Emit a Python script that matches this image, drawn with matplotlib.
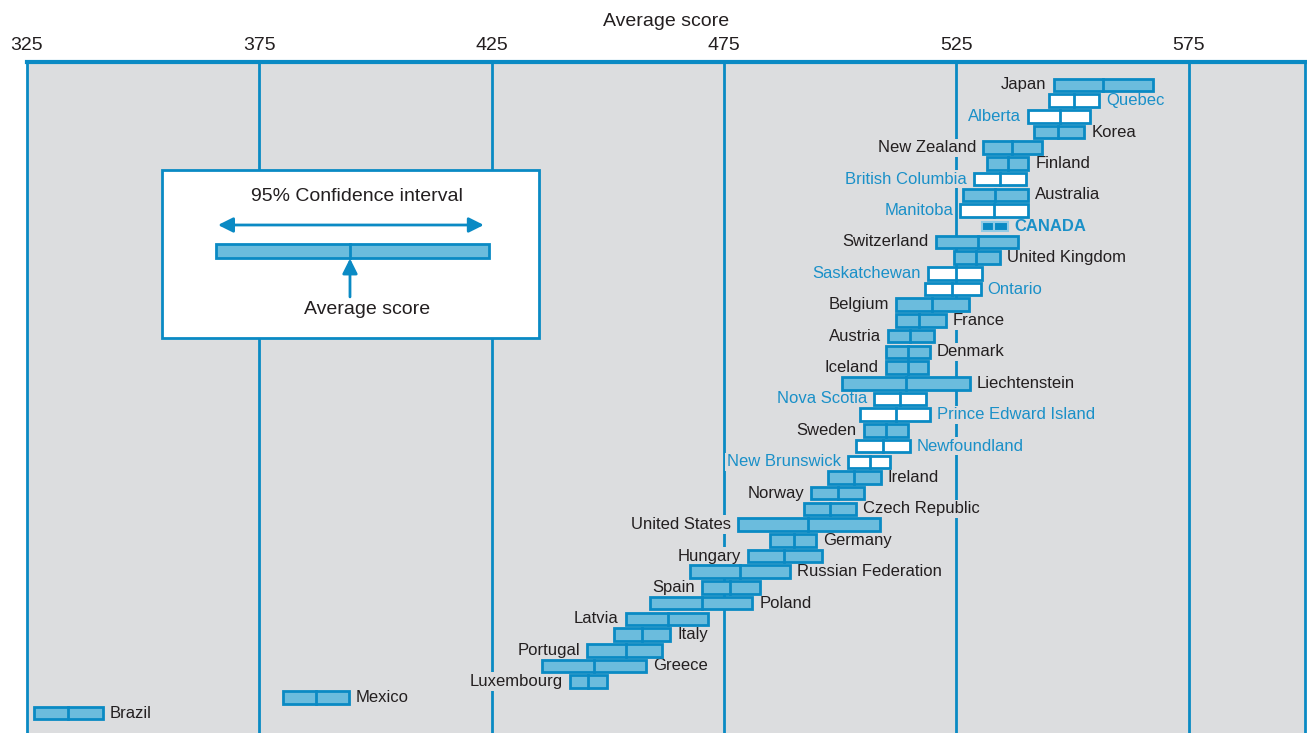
import matplotlib
matplotlib.use("Agg")
import matplotlib.pyplot as plt
from matplotlib.patches import Rectangle

# colours
BG = "#dcdddf"
BLUE = "#0a8ac4"
FILL = "#6bbcdd"
DARK = "#231f20"
PROV = "#1a90c8"

plt.rcParams["font.family"] = ["Liberation Sans", "DejaVu Sans"]

# PISA mathematics, 95% confidence intervals
names = ["Japan", "Quebec", "Alberta", "Korea", "New Zealand", "Finland",
         "British Columbia", "Australia", "Manitoba", "CANADA", "Switzerland",
         "United Kingdom", "Saskatchewan", "Ontario", "Belgium", "France",
         "Austria", "Denmark", "Iceland", "Liechtenstein", "Nova Scotia",
         "Prince Edward Island", "Sweden", "Newfoundland", "New Brunswick",
         "Ireland", "Norway", "Czech Republic", "United States", "Germany",
         "Hungary", "Russian Federation", "Spain", "Poland", "Latvia", "Italy",
         "Portugal", "Greece", "Luxembourg", "Mexico", "Brazil"]
kind = ["country", "province", "province", "country", "country", "country",
        "province", "country", "province", "canada", "country",
        "country", "province", "province", "country", "country",
        "country", "country", "country", "country", "province",
        "province", "country", "province", "province",
        "country", "country", "country", "country", "country",
        "country", "country", "country", "country", "country", "country",
        "country", "country", "country", "country", "country"]
low = [545.9, 545.0, 540.3, 541.6, 530.8, 531.6,
       528.7, 526.5, 525.8, 530.4, 520.5,
       524.4, 518.8, 518.3, 511.9, 511.9,
       510.2, 509.8, 509.8, 500.3, 507.2,
       504.2, 505.0, 503.3, 501.6,
       497.3, 493.8, 492.1, 478.0, 484.8,
       480.1, 467.6, 470.2, 459.0, 453.8, 451.3,
       445.6, 435.8, 441.8, 380.1, 326.4]
mean = [556.6, 550.4, 547.2, 546.8, 536.9, 536.0,
        534.3, 533.4, 533.0, 533.0, 529.7,
        529.2, 524.8, 524.1, 519.8, 517.0,
        514.9, 514.5, 514.5, 514.1, 512.8,
        512.0, 509.8, 509.3, 506.4,
        502.9, 499.5, 497.8, 493.1, 490.0,
        487.9, 478.4, 476.2, 470.2, 462.9, 457.3,
        453.9, 446.9, 445.7, 387.2, 333.9]
high = [567.4, 555.7, 553.7, 552.5, 543.4, 540.5,
        540.0, 540.5, 540.5, 536.0, 538.3,
        534.4, 530.5, 530.2, 527.6, 522.7,
        520.2, 519.3, 518.9, 527.9, 518.5,
        519.3, 514.6, 515.0, 510.8,
        508.7, 505.1, 503.4, 508.6, 494.8,
        496.1, 489.2, 482.8, 481.1, 471.6, 463.4,
        461.7, 458.3, 449.7, 394.2, 341.3]
ticks = [325, 375, 425, 475, 525, 575]

fig = plt.figure(figsize=(13.07, 7.33), dpi=100)
ax = fig.add_axes([27 / 1307, 0, 1278 / 1307, 1 - 62 / 733])
ax.set_facecolor(BG)
ax.set_xlim(325, 600)
ax.set_ylim(41.27, -1.46)

for t in ticks[1:]:
    ax.axvline(t, color=BLUE, lw=2, zorder=1)

for i, name in enumerate(names):
    lo, m, hi = low[i], mean[i], high[i]
    if kind[i] == "canada":
        h = 0.6
        ax.add_patch(Rectangle((lo, i - h / 2), m - lo, h, facecolor=BLUE,
                               edgecolor="#8fcbe6", lw=1.5, zorder=3))
        ax.add_patch(Rectangle((m, i - h / 2), hi - m, h, facecolor=BLUE,
                               edgecolor="#8fcbe6", lw=1.5, zorder=3))
        col, weight = PROV, "bold"
    else:
        h = 0.8
        fc = "white" if kind[i] == "province" else FILL
        ax.add_patch(Rectangle((lo, i - h / 2), hi - lo, h, facecolor=fc,
                               edgecolor=BLUE, lw=2, zorder=3))
        ax.plot([m, m], [i - h / 2, i + h / 2], color=BLUE, lw=2, zorder=4)
        col = PROV if kind[i] == "province" else DARK
        weight = "normal"

    # labels alternate left / right; far-left rows go right
    if i % 2 == 0 and lo > 340:
        x, dx, ha = lo, -5, "right"
    else:
        x, dx, ha = hi, 5, "left"
    ax.annotate(name, (x, i), xytext=(dx, 0), textcoords="offset points",
                ha=ha, va="center", fontsize=12, color=col, fontweight=weight,
                zorder=2,
                bbox=dict(boxstyle="square,pad=0.1", fc=BG, ec="none"))

# legend box
ax.add_patch(Rectangle((354.0, 5.41), 81.1, 10.7, facecolor="white",
                       edgecolor=BLUE, lw=2, zorder=6))
ax.text(396.0, 7.13, "95% Confidence interval", ha="center", va="center",
        fontsize=14, color=DARK, zorder=7)
ax.annotate("", xy=(366.1, 8.92), xytext=(423.3, 8.92), zorder=7,
            arrowprops=dict(arrowstyle="<|-|>,head_length=0.9,head_width=0.45",
                            color=BLUE, lw=2, shrinkA=0, shrinkB=0))
ax.add_patch(Rectangle((365.6, 10.12), 58.8, 0.9, facecolor=FILL,
                       edgecolor=BLUE, lw=2, zorder=7))
ax.plot([394.5, 394.5], [10.12, 11.02], color=BLUE, lw=2, zorder=8)
ax.annotate("", xy=(394.5, 11.05), xytext=(394.5, 13.5), zorder=8,
            arrowprops=dict(arrowstyle="-|>,head_length=0.9,head_width=0.45",
                            color=BLUE, lw=2, shrinkA=0, shrinkB=0))
ax.text(398.1, 14.33, "Average score", ha="center", va="center",
        fontsize=14, color=DARK, zorder=7)

# axis on top
ax.xaxis.tick_top()
ax.xaxis.set_label_position("top")
ax.set_xticks(ticks)
ax.tick_params(axis="x", length=0, pad=6, labelsize=14, labelcolor=DARK)
ax.set_yticks([])
ax.set_xlabel("Average score", fontsize=14, color=DARK, labelpad=8)
for s in ["top", "left", "right"]:
    ax.spines[s].set_color(BLUE)
ax.spines["top"].set_linewidth(3)
ax.spines["left"].set_linewidth(2)
ax.spines["right"].set_linewidth(2)
ax.spines["bottom"].set_visible(False)

fig.savefig("out.png", dpi=100)
